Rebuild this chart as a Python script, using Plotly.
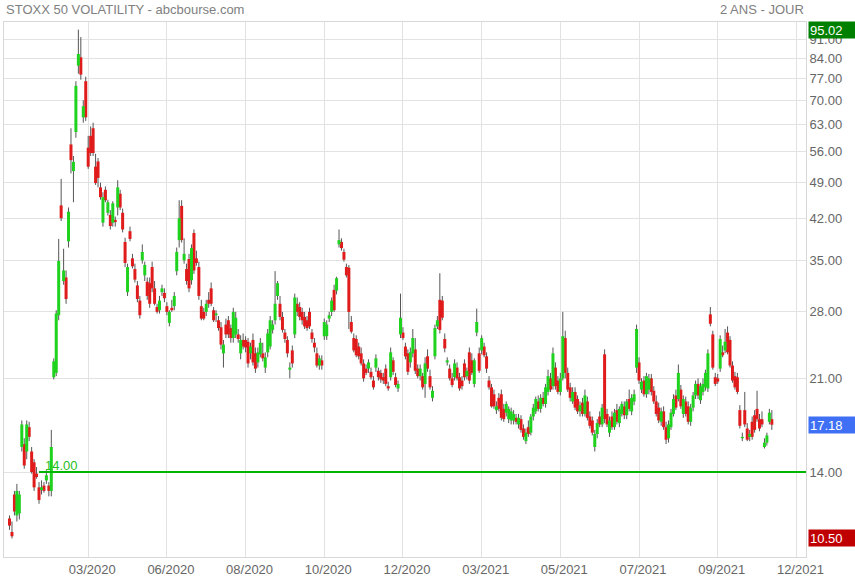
import math
import plotly.graph_objects as go

# ---------------- data ----------------
OPEN = [
    11.45, 10.8, 12.7, 11.6, 11.7, 15.6, 15.8, 15.3, 17.0, 15.3,
    14.6, 13.9, 13.1, 12.95, 13.2, 13.5, 13.2, 12.9, 21.1, 21.5,
    27.6, 44.4, 32.0, 32.5, 38.0, 57.8, 51.5, 61.0, 81.3, 84.3,
    65.0, 76.0, 57.0, 60.0, 62.0, 52.5, 53.7, 48.0, 41.2, 47.5,
    43.0, 42.6, 41.2, 41.7, 44.0, 46.7, 43.0, 37.9, 30.5, 39.7,
    35.3, 33.7, 31.4, 29.4, 35.0, 32.8, 31.9, 31.7, 34.0, 31.0,
    28.6, 28.2, 30.5, 30.4, 28.7, 26.7, 28.5, 28.7, 33.4, 38.2,
    44.3, 35.0, 33.7, 35.2, 32.1, 39.4, 35.3, 34.0, 28.7, 28.0,
    28.0, 29.5, 31.0, 28.2, 27.6, 27.0, 26.2, 23.4, 26.5, 27.0,
    26.1, 25.0, 25.4, 25.4, 23.4, 24.8, 24.8, 24.6, 23.4, 24.8,
    23.4, 22.5, 23.3, 23.4, 22.0, 23.5, 24.1, 25.9, 27.0, 30.0,
    29.0, 27.4, 25.6, 24.8, 21.8, 23.7, 25.4, 29.0, 28.6, 28.0,
    27.4, 27.0, 28.0, 25.6, 24.5, 23.4, 22.2, 22.7, 25.2, 25.2,
    27.2, 28.0, 30.8, 30.7, 37.5, 37.9, 36.3, 34.0, 33.9, 26.8,
    25.0, 24.9, 24.1, 23.4, 22.4, 21.9, 21.9, 21.6, 20.8, 22.0,
    21.7, 21.5, 21.1, 21.9, 20.3, 21.1, 22.7, 21.1, 20.1, 25.4,
    25.6, 24.1, 23.4, 22.5, 23.4, 23.8, 21.9, 21.2, 21.2, 20.5,
    23.1, 21.2, 19.3, 23.1, 26.3, 29.5, 29.4, 24.9, 22.5, 21.9,
    21.0, 21.1, 22.0, 21.1, 20.8, 22.4, 21.2, 23.5, 22.7, 20.5,
    25.6, 23.4, 23.7, 24.1, 23.1, 20.8, 20.2, 19.6, 18.3, 19.3,
    19.6, 18.4, 18.1, 17.6, 17.5, 17.5, 17.7, 17.2, 17.6, 16.9,
    16.0, 17.0, 16.6, 17.8, 18.2, 19.0, 18.4, 19.3, 18.8, 19.8,
    21.0, 20.3, 22.0, 20.8, 19.8, 21.0, 25.0, 21.5, 20.2, 19.0,
    19.8, 19.2, 18.2, 18.9, 18.0, 19.0, 17.8, 17.5, 15.6, 16.5,
    17.8, 17.2, 23.3, 18.0, 16.6, 17.8, 17.0, 18.3, 17.3, 18.0,
    18.6, 17.9, 19.2, 18.2, 19.0, 22.0, 22.5, 20.0, 20.8, 19.6,
    20.0, 21.0, 19.9, 19.0, 18.5, 17.4, 18.2, 17.0, 16.2, 17.0,
    18.0, 19.5, 19.2, 20.0, 18.0, 19.0, 18.6, 17.4, 18.5, 19.5,
    20.5, 19.1, 19.8, 20.2, 20.1, 27.7, 25.4, 21.1, 21.0, 21.9,
    23.5, 23.7, 25.6, 24.8, 22.2, 21.2, 21.1, 18.3, 16.2, 18.3,
    16.9, 16.3, 17.4, 17.9, 18.4, 17.6, 17.6, 15.6, 15.9, 17.4, 17.6,
]
HIGH = [
    11.6, 11.3, 12.9, 13.3, 12.9, 17.5, 16.2, 17.5, 17.4, 15.6,
    14.8, 14.3, 13.4, 13.5, 13.4, 14.1, 13.4, 16.8, 22.9, 28.2,
    38.4, 49.8, 36.8, 33.5, 44.0, 62.0, 55.0, 76.0, 95.02, 92.0,
    70.0, 77.5, 60.0, 62.5, 63.5, 55.5, 54.5, 49.0, 47.0, 48.2,
    45.5, 43.5, 45.2, 42.3, 49.5, 47.5, 43.8, 38.6, 34.5, 40.5,
    36.0, 34.5, 32.0, 30.0, 37.5, 34.8, 32.5, 32.5, 34.8, 32.0,
    29.0, 30.0, 31.5, 31.0, 29.2, 28.2, 29.5, 30.5, 37.0, 45.4,
    45.4, 38.5, 34.5, 36.0, 37.5, 40.0, 36.5, 34.8, 29.5, 28.5,
    29.5, 30.5, 31.8, 28.6, 28.2, 27.5, 26.8, 24.8, 27.2, 27.5,
    26.5, 28.5, 28.0, 26.0, 25.3, 25.5, 25.2, 25.0, 24.5, 25.5,
    24.0, 24.0, 25.0, 24.5, 23.5, 26.0, 27.5, 27.0, 33.4, 32.0,
    30.0, 28.0, 26.0, 25.2, 22.5, 24.2, 30.3, 29.8, 29.2, 28.5,
    28.0, 27.5, 28.5, 26.0, 25.0, 24.0, 23.2, 23.2, 27.2, 27.0,
    28.0, 29.8, 31.5, 32.6, 40.0, 38.5, 36.8, 34.5, 34.3, 27.5,
    25.5, 25.3, 24.5, 24.0, 22.8, 22.3, 22.8, 22.0, 21.2, 23.3,
    22.0, 21.8, 21.5, 22.3, 20.7, 24.0, 23.0, 21.5, 20.8, 30.3,
    26.2, 24.5, 23.8, 24.0, 26.0, 25.0, 22.3, 22.3, 21.5, 23.0,
    23.8, 21.8, 20.3, 26.5, 27.5, 33.1, 30.0, 25.5, 23.0, 22.3,
    21.5, 22.8, 22.5, 21.5, 21.2, 22.8, 22.0, 24.0, 23.4, 22.9,
    28.4, 24.0, 25.3, 24.5, 23.5, 21.2, 20.5, 20.0, 19.0, 19.7,
    20.0, 18.8, 19.0, 18.6, 18.5, 18.3, 18.0, 18.0, 17.9, 17.2,
    16.9, 17.5, 18.0, 18.8, 19.4, 19.5, 19.6, 19.8, 20.5, 21.8,
    21.5, 24.0, 22.5, 21.2, 21.5, 28.0, 25.8, 22.0, 20.6, 20.2,
    20.2, 19.5, 19.0, 19.3, 20.0, 19.4, 18.2, 17.8, 16.8, 17.6,
    18.2, 18.8, 23.8, 18.4, 17.8, 18.2, 18.4, 18.8, 18.6, 19.0,
    19.0, 19.2, 20.0, 19.6, 20.0, 26.5, 23.0, 21.0, 21.2, 21.5,
    21.4, 21.4, 20.3, 19.5, 18.9, 18.5, 18.6, 17.4, 17.5, 18.4,
    19.6, 20.0, 22.3, 20.4, 19.5, 19.4, 19.0, 18.8, 19.8, 20.8,
    21.0, 20.6, 21.0, 21.8, 23.8, 28.6, 25.8, 21.5, 21.4, 25.3,
    24.2, 26.0, 26.3, 25.2, 22.6, 21.6, 21.5, 18.7, 16.6, 19.8,
    17.3, 16.8, 17.8, 18.3, 19.9, 18.0, 18.2, 16.2, 16.6, 18.4, 18.3,
]
LOW = [
    10.9, 10.5, 11.6, 11.3, 11.4, 15.3, 14.2, 14.8, 16.0, 13.9,
    12.9, 13.6, 12.2, 12.7, 12.8, 13.3, 12.6, 12.6, 20.9, 21.2,
    27.0, 41.5, 31.5, 29.0, 37.0, 51.0, 45.0, 59.5, 78.5, 76.5,
    63.5, 64.0, 52.0, 55.0, 55.0, 48.5, 48.0, 45.5, 40.5, 45.0,
    42.5, 40.0, 40.5, 40.5, 42.5, 43.5, 39.5, 34.0, 30.0, 38.0,
    33.8, 31.8, 29.2, 27.2, 34.5, 32.0, 29.5, 28.5, 30.5, 28.8,
    27.8, 27.8, 30.0, 29.2, 27.6, 26.3, 28.0, 28.2, 32.8, 37.0,
    37.8, 34.5, 31.5, 30.5, 31.5, 33.0, 34.2, 29.5, 27.0, 27.0,
    27.5, 28.5, 28.7, 26.8, 26.8, 25.8, 23.8, 22.0, 25.0, 25.0,
    24.5, 24.5, 25.0, 24.5, 22.8, 23.8, 23.5, 22.0, 22.8, 22.2,
    21.5, 22.0, 23.0, 22.6, 21.5, 23.0, 23.8, 25.5, 26.5, 29.5,
    27.0, 25.6, 24.5, 23.0, 21.0, 22.0, 25.0, 27.5, 27.0, 26.5,
    26.0, 25.8, 26.0, 24.5, 23.5, 22.0, 21.8, 21.8, 24.8, 24.8,
    26.8, 27.5, 28.0, 30.2, 37.0, 36.5, 34.8, 32.5, 26.0, 25.5,
    23.5, 23.0, 22.8, 22.2, 20.7, 21.3, 21.5, 20.9, 20.0, 21.6,
    20.8, 20.6, 20.5, 20.3, 19.9, 20.8, 21.3, 20.2, 19.8, 25.0,
    24.8, 22.8, 21.3, 22.0, 23.0, 21.4, 21.0, 20.8, 20.0, 19.3,
    21.6, 20.0, 19.0, 22.8, 26.0, 25.5, 27.0, 23.5, 22.2, 20.8,
    20.2, 20.8, 20.8, 19.9, 20.0, 20.8, 20.9, 20.5, 21.3, 20.2,
    25.2, 21.5, 23.3, 23.0, 21.5, 20.0, 18.5, 18.4, 18.0, 18.2,
    17.5, 17.4, 17.8, 17.3, 17.2, 17.2, 17.2, 16.9, 16.6, 16.1,
    15.8, 16.3, 16.4, 17.5, 18.0, 18.2, 18.1, 18.6, 18.5, 19.5,
    19.8, 20.0, 20.0, 19.6, 19.5, 20.8, 21.0, 19.8, 19.0, 18.8,
    18.3, 18.0, 17.8, 17.8, 17.8, 17.5, 16.9, 16.4, 15.3, 16.2,
    17.0, 17.0, 17.3, 17.0, 16.3, 16.8, 16.8, 17.2, 17.0, 17.8,
    17.6, 17.6, 18.2, 17.9, 18.7, 21.5, 20.5, 19.7, 19.4, 19.3,
    19.6, 19.5, 18.8, 17.8, 17.3, 17.1, 16.8, 15.8, 15.9, 16.8,
    17.8, 18.3, 19.0, 18.4, 17.7, 17.8, 17.2, 17.1, 18.2, 19.2,
    19.2, 18.8, 19.5, 19.9, 19.8, 26.3, 21.8, 20.3, 20.5, 21.6,
    23.0, 23.4, 23.3, 22.0, 20.6, 20.0, 19.6, 16.9, 16.0, 17.0,
    16.0, 16.0, 16.1, 16.6, 17.4, 16.7, 17.0, 15.5, 15.7, 17.2, 16.8,
]
CLOSE = [
    11.1, 10.6, 11.8, 12.9, 12.7, 17.2, 14.4, 17.2, 16.3, 14.0,
    13.1, 13.7, 12.4, 13.1, 12.9, 13.8, 12.9, 15.6, 22.6, 27.8,
    34.9, 42.0, 33.5, 29.6, 43.2, 54.0, 53.6, 74.5, 85.5, 78.2,
    68.2, 65.0, 52.5, 55.7, 55.7, 48.9, 50.0, 46.0, 46.0, 45.4,
    45.0, 40.6, 44.8, 41.3, 48.0, 44.0, 40.0, 34.6, 34.0, 38.4,
    34.1, 32.2, 29.6, 27.6, 36.3, 34.3, 30.0, 29.0, 31.0, 29.0,
    28.0, 29.4, 31.0, 29.7, 28.0, 28.0, 28.2, 30.0, 36.3, 42.0,
    38.2, 36.0, 32.0, 31.0, 36.9, 33.5, 34.6, 30.0, 27.2, 27.2,
    29.0, 29.0, 29.0, 27.0, 27.8, 26.1, 24.3, 24.3, 25.4, 25.4,
    25.0, 28.0, 27.3, 24.9, 24.8, 24.1, 24.0, 22.4, 24.1, 22.5,
    21.9, 23.5, 24.5, 22.9, 23.0, 25.5, 27.0, 26.5, 29.0, 31.7,
    27.4, 25.9, 24.9, 23.4, 22.0, 22.4, 29.8, 28.0, 27.4, 27.0,
    26.3, 26.1, 26.3, 24.9, 24.0, 22.2, 22.9, 22.2, 26.8, 26.5,
    27.6, 29.4, 28.2, 32.4, 38.2, 36.9, 35.1, 32.8, 28.0, 25.7,
    23.7, 23.2, 23.1, 22.4, 21.0, 21.5, 22.5, 21.1, 20.2, 22.9,
    21.1, 20.9, 20.8, 20.5, 20.1, 23.5, 21.6, 20.4, 20.5, 27.3,
    25.0, 23.1, 21.6, 23.5, 25.0, 21.7, 21.2, 21.9, 20.2, 22.4,
    21.9, 20.2, 19.9, 26.1, 27.0, 25.9, 27.3, 23.9, 22.7, 21.0,
    20.4, 22.4, 21.0, 20.1, 20.3, 21.1, 21.7, 20.8, 21.5, 22.7,
    26.8, 21.7, 25.0, 23.2, 21.9, 20.2, 18.6, 18.6, 18.6, 18.4,
    17.7, 17.6, 18.8, 18.4, 18.2, 18.0, 17.4, 17.7, 16.8, 16.3,
    16.6, 16.5, 17.8, 18.5, 19.2, 18.4, 19.3, 18.8, 20.2, 21.2,
    20.0, 23.4, 20.3, 19.8, 21.0, 25.2, 21.5, 20.0, 19.3, 19.8,
    18.5, 18.2, 18.7, 18.0, 19.5, 17.7, 17.1, 16.6, 16.5, 17.3,
    17.2, 18.5, 17.6, 17.2, 17.5, 17.0, 18.1, 17.4, 18.4, 18.8,
    17.9, 19.0, 18.4, 19.3, 19.6, 26.0, 20.8, 20.7, 19.6, 21.2,
    21.0, 19.8, 19.0, 18.0, 17.5, 18.2, 17.0, 16.1, 17.2, 18.1,
    19.2, 18.5, 21.5, 18.6, 19.2, 18.0, 17.4, 18.5, 19.5, 20.5,
    19.5, 20.3, 20.5, 21.5, 23.4, 26.6, 22.0, 20.5, 20.7, 24.9,
    23.2, 24.6, 23.5, 22.2, 20.8, 20.2, 19.8, 17.1, 16.3, 17.2,
    16.1, 16.5, 16.3, 16.8, 17.6, 16.9, 17.2, 15.9, 16.4, 18.1, 17.18,
]

TICK_POS = [32, 64, 96, 128, 160, 192, 224, 256, 288, 320]
TICK_LABELS = ["03/2020", "06/2020", "08/2020", "10/2020", "12/2020",
               "03/2021", "05/2021", "07/2021", "09/2021", "12/2021"]
Y_TICKS = [14, 21, 28, 35, 42, 49, 56, 63, 70, 77, 84, 91]
LEVEL = 14.0
LEVEL_START = 12

assert len(OPEN) == len(HIGH) == len(LOW) == len(CLOSE)

# ---------------- styling ----------------
X_RANGE = [-2.24, 323.9]
Y_RANGE = [0.98632, 1.99215]
UP = "#1ed21e"
DOWN = "#e01b1b"
WICK = "#555555"
FONT = "Liberation Sans, Arial, Helvetica, sans-serif"

n = len(CLOSE)
idx = list(range(n))

wx, wy, gx, gy, rx, ry = [], [], [], [], [], []
for i in idx:
    wx += [i, i, None]
    wy += [LOW[i], HIGH[i], None]
    if CLOSE[i] >= OPEN[i]:
        gx += [i, i, None]
        gy += [OPEN[i], CLOSE[i], None]
    else:
        rx += [i, i, None]
        ry += [OPEN[i], CLOSE[i], None]

fig = go.Figure()
fig.add_trace(go.Scatter(x=wx, y=wy, mode="lines", line=dict(color=WICK, width=1),
                         hoverinfo="skip"))
fig.add_trace(go.Scatter(x=rx, y=ry, mode="lines", line=dict(color=DOWN, width=3),
                         hoverinfo="skip"))
fig.add_trace(go.Scatter(x=gx, y=gy, mode="lines", line=dict(color=UP, width=3),
                         hoverinfo="skip"))
fig.add_trace(go.Scatter(x=[LEVEL_START, X_RANGE[1]], y=[LEVEL, LEVEL], mode="lines",
                         line=dict(color="#00b400", width=2), hoverinfo="skip"))

axis_common = dict(showgrid=True, gridcolor="#e2e2e2", gridwidth=1, zeroline=False,
                   showline=True, linecolor="#d8d8d8", linewidth=1, mirror=True,
                   ticks="", tickfont=dict(family=FONT, size=13, color="#666666"))

fig.update_layout(
    width=855, height=580,
    margin=dict(l=4, r=49, t=22, b=23),
    paper_bgcolor="white", plot_bgcolor="white",
    showlegend=False,
    font=dict(family=FONT, size=13, color="#666666"),
    xaxis=dict(range=X_RANGE, tickmode="array", tickvals=TICK_POS, ticktext=TICK_LABELS,
               ticklabelshift=4, fixedrange=True, **axis_common),
    yaxis=dict(type="log", range=Y_RANGE, side="right", tickmode="array",
               tickvals=Y_TICKS, ticktext=[f"{v:.2f}" for v in Y_TICKS],
               fixedrange=True, **axis_common),
)

ann = []
ann.append(dict(text="STOXX 50 VOLATILITY - abcbourse.com", xref="paper", yref="paper",
                x=0, y=1.0234, xanchor="left", yanchor="middle", showarrow=False,
                font=dict(family=FONT, size=13, color="#808080")))
ann.append(dict(text="2 ANS - JOUR", xref="paper", yref="paper",
                x=1, y=1.0234, xanchor="right", yanchor="middle", showarrow=False,
                font=dict(family=FONT, size=13, color="#808080")))
ann.append(dict(text=f"{LEVEL:.2f}", xref="x", yref="y", x=LEVEL_START,
                y=math.log10(LEVEL), xanchor="left", yanchor="bottom", xshift=4, yshift=-3,
                showarrow=False, font=dict(family=FONT, size=13, color="#1fbf1f")))

box_x = 1 + 2 / 802
for val, col in [(max(HIGH), "#008000"), (CLOSE[-1], "#3e6ff5"), (min(LOW), "#c00000")]:
    ann.append(dict(text=f"{val:.2f}", xref="paper", yref="y", x=box_x,
                    y=math.log10(val), xanchor="left", yanchor="middle",
                    width=44, height=14, align="left", borderpad=1, bgcolor=col,
                    showarrow=False, font=dict(family=FONT, size=13, color="white")))
fig.update_layout(annotations=ann)

fig.write_html(
    "out.html",
    config={"displayModeBar": False, "staticPlot": True},
    post_script="document.body.style.margin='0';document.body.style.padding='0';"
                "document.documentElement.style.overflow='hidden';",
)
